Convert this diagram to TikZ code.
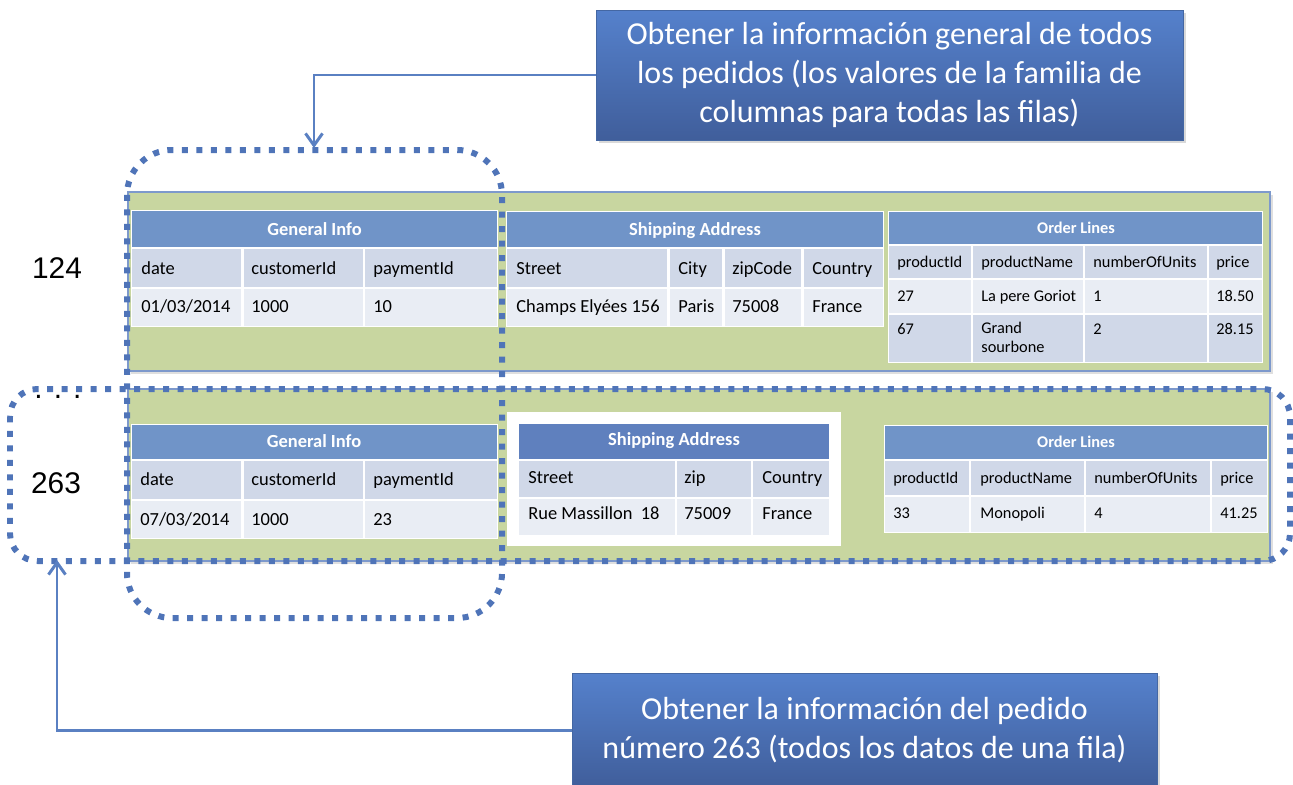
\documentclass[tikz,border=0pt]{standalone}
\usepackage{fontspec}
\setmainfont{Carlito}
\newfontfamily\numfont{Liberation Sans}
\usetikzlibrary{arrows.meta, shadows}

\definecolor{rowgreen}{RGB}{200,214,160}
\definecolor{rowedge}{RGB}{125,153,204}
\definecolor{hdrblue}{RGB}{112,148,200}
\definecolor{hdrdark}{RGB}{95,128,190}
\definecolor{celldark}{RGB}{208,216,232}
\definecolor{celllight}{RGB}{233,237,244}
\definecolor{selblue}{RGB}{79,116,184}
\definecolor{connblue}{RGB}{90,128,194}
\definecolor{caltop}{RGB}{85,129,204}
\definecolor{calbot}{RGB}{64,94,155}

\newcommand{\tabfont}{\fontsize{10.5}{12.6}\selectfont}
\newcommand{\olfont}{\fontsize{9.3}{10.8}\selectfont}
\newcommand{\calfont}{\fontsize{18.2}{22}\selectfont}

\tikzset{
  rowbox/.style={fill=rowgreen, draw=rowedge, line width=1.1pt,
    drop shadow={opacity=0.25, shadow xshift=0.05cm, shadow yshift=-0.05cm}},
  tabbg/.style={fill=white},
  hdr/.style={fill=hdrblue},
  rowa/.style={fill=celldark},
  rowb/.style={fill=celllight},
  colsep/.style={draw=white, line width=1.2pt},
  htext/.style={text=white, font=\tabfont\bfseries, inner sep=0pt, text height=7pt, text depth=0pt},
  ohtext/.style={htext, font=\olfont\bfseries, text height=6.3pt},
  ctext/.style={anchor=west, font=\tabfont, inner sep=0pt, text height=7pt, text depth=0pt},
  otext/.style={ctext, font=\olfont, text height=6.3pt},
  selbox/.style={draw=selblue, line width=0.12cm, dash pattern=on 0.12cm off 0.17cm},
  callout/.style={top color=caltop, bottom color=calbot, draw=caltop!80!black, line width=0.4pt,
    text=white, font=\calfont, align=center,
    drop shadow={opacity=0.3, shadow xshift=0.06cm, shadow yshift=-0.06cm}},
  conn/.style={draw=connblue, line width=1.7pt, -{Straight Barb[length=2.4mm, width=3.4mm]}},
  rownum/.style={font=\numfont\fontsize{17}{20}\selectfont, inner sep=0pt},
}

\begin{document}
\begin{tikzpicture}[x=0.02cm, y=-0.02cm]
\useasboundingbox (0,0) rectangle (1293,784);
\clip (0,0) rectangle (1293,784);
%\draw[step=50,gray,very thin] (0,0) grid (1293,784);

% row 124
\draw[rowbox] (128,192) rectangle (1270,371);
\node[rownum] (k124) at (57,268) {124};

\path[tabbg] (131,210) rectangle (498,327);
\path[hdr] (132,211) rectangle (497,247);
\path[rowa] (132,249) rectangle (497,287);
\path[rowb] (132,289) rectangle (497,326);
\draw[colsep] (242.5,248) -- (242.5,327);
\draw[colsep] (364,248) -- (364,327);
\node[htext] (gi1) at (314.5,229) {General Info};
\node[ctext] (gi1a1) at (141,268) {date};
\node[ctext] (gi1a2) at (251,268) {customerId};
\node[ctext] (gi1a3) at (373,268) {paymentId};
\node[ctext] (gi1b1) at (141,306) {01/03/2014};
\node[ctext] (gi1b2) at (251,306) {1000};
\node[ctext] (gi1b3) at (373,306) {10};

\path[tabbg] (506,211) rectangle (884,327);
\path[hdr] (507,212) rectangle (883,247);
\path[rowa] (507,249) rectangle (883,287);
\path[rowb] (507,289) rectangle (883,326);
\draw[colsep] (668.5,248) -- (668.5,327);
\draw[colsep] (723.5,248) -- (723.5,327);
\draw[colsep] (802.5,248) -- (802.5,327);
\node[htext] (sa1) at (695,229) {Shipping Address};
\node[ctext] (sa1a1) at (516,268) {Street};
\node[ctext] (sa1a2) at (678,268) {City};
\node[ctext] (sa1a3) at (732,268) {zipCode};
\node[ctext] (sa1a4) at (812,268) {Country};
\node[ctext] (sa1b1) at (516,306) {Champs Elyées 156};
\node[ctext] (sa1b2) at (678,306) {Paris};
\node[ctext] (sa1b3) at (732,306) {75008};
\node[ctext] (sa1b4) at (812,306) {France};

\path[tabbg] (888,211) rectangle (1263,363);
\path[hdr] (889,212) rectangle (1262,244);
\path[rowa] (889,246) rectangle (1262,278);
\path[rowb] (889,280) rectangle (1262,313);
\path[rowa] (889,315) rectangle (1262,362);
\draw[colsep] (972,245) -- (972,363);
\draw[colsep] (1084,245) -- (1084,363);
\draw[colsep] (1208,245) -- (1208,363);
\node[ohtext] (ol1) at (1076,228) {Order Lines};
\node[otext] (ol1a1) at (897,262) {productId};
\node[otext] (ol1a2) at (981,262) {productName};
\node[otext] (ol1a3) at (1093,262) {numberOfUnits};
\node[otext] (ol1a4) at (1216,262) {price};
\node[otext] (ol1b1) at (897,296) {27};
\node[otext] (ol1b2) at (981,296) {La pere Goriot};
\node[otext] (ol1b3) at (1093,296) {1};
\node[otext] (ol1b4) at (1216,296) {18.50};
\node[otext] (ol1c1) at (897,329) {67};
\node[otext, anchor=north west, align=left, text height=] (ol1c2) at (981,322) {Grand\\sourbone};
\node[otext] (ol1c3) at (1093,329) {2};
\node[otext] (ol1c4) at (1216,329) {28.15};

% dots between the rows
\node[rownum, anchor=base] (kdots) at (58,398) {. . .};

% row 263
\draw[rowbox] (128,389) rectangle (1270,561);
\node[rownum] (k263) at (56,483) {263};

\path[tabbg] (131,424) rectangle (498,539);
\path[hdr] (132,425) rectangle (497,459);
\path[rowa] (132,461) rectangle (497,499);
\path[rowb] (132,501) rectangle (497,538);
\draw[colsep] (242.5,460) -- (242.5,539);
\draw[colsep] (364,460) -- (364,539);
\node[htext] (gi2) at (314,441) {General Info};
\node[ctext] (gi2a1) at (140,479) {date};
\node[ctext] (gi2a2) at (251,479) {customerId};
\node[ctext] (gi2a3) at (373,479) {paymentId};
\node[ctext] (gi2b1) at (140,519) {07/03/2014};
\node[ctext] (gi2b2) at (251,519) {1000};
\node[ctext] (gi2b3) at (373,519) {23};

\path[tabbg] (507,412) rectangle (841,546);
\path[fill=hdrdark] (519,424) rectangle (829,459);
\path[rowa] (519,461) rectangle (829,497);
\path[rowb] (519,499) rectangle (829,535);
\draw[colsep] (676,460) -- (676,536);
\draw[colsep] (752,460) -- (752,536);
\node[htext] (sa2) at (674,439) {Shipping Address};
\node[ctext] (sa2a1) at (528,477) {Street};
\node[ctext] (sa2a2) at (684,477) {zip};
\node[ctext] (sa2a3) at (762,477) {Country};
\node[ctext] (sa2b1) at (528,513) {Rue Massillon\ \ 18};
\node[ctext] (sa2b2) at (684,513) {75009};
\node[ctext] (sa2b3) at (762,513) {France};

\path[tabbg] (884,425) rectangle (1268,533);
\path[hdr] (885,426) rectangle (1267,459);
\path[rowa] (885,461) rectangle (1267,495);
\path[rowb] (885,497) rectangle (1267,532);
\draw[colsep] (970,460) -- (970,533);
\draw[colsep] (1085,460) -- (1085,533);
\draw[colsep] (1211,460) -- (1211,533);
\node[ohtext] (ol2) at (1076,442) {Order Lines};
\node[otext] (ol2a1) at (893,478) {productId};
\node[otext] (ol2a2) at (980,478) {productName};
\node[otext] (ol2a3) at (1094,478) {numberOfUnits};
\node[otext] (ol2a4) at (1220,478) {price};
\node[otext] (ol2b1) at (893,513) {33};
\node[otext] (ol2b2) at (980,513) {Monopoli};
\node[otext] (ol2b3) at (1094,513) {4};
\node[otext] (ol2b4) at (1220,513) {41.25};

% selections
\draw[selbox, rounded corners=0.9cm] (127,150) rectangle (502,618);
\draw[selbox, rounded corners=0.55cm] (10,389) rectangle (1290,561);

% callouts
\node[callout, minimum width=11.74cm, minimum height=2.6cm] (q1) at (889.5,75)
  {Obtener la información general de todos\\los pedidos (los valores de la familia de\\columnas para todas las filas)};
\node[callout, minimum width=11.7cm, minimum height=2.28cm] (q2) at (864.5,730)
  {Obtener la información del pedido\\número 263 (todos los datos de una fila)};

\coordinate (colsel) at (314,148);
\coordinate (rowsel) at (57,560);
\draw[conn] (q1.west) -| (colsel);
\draw[conn] (q2.west) -| (rowsel);
\end{tikzpicture}
\end{document}
